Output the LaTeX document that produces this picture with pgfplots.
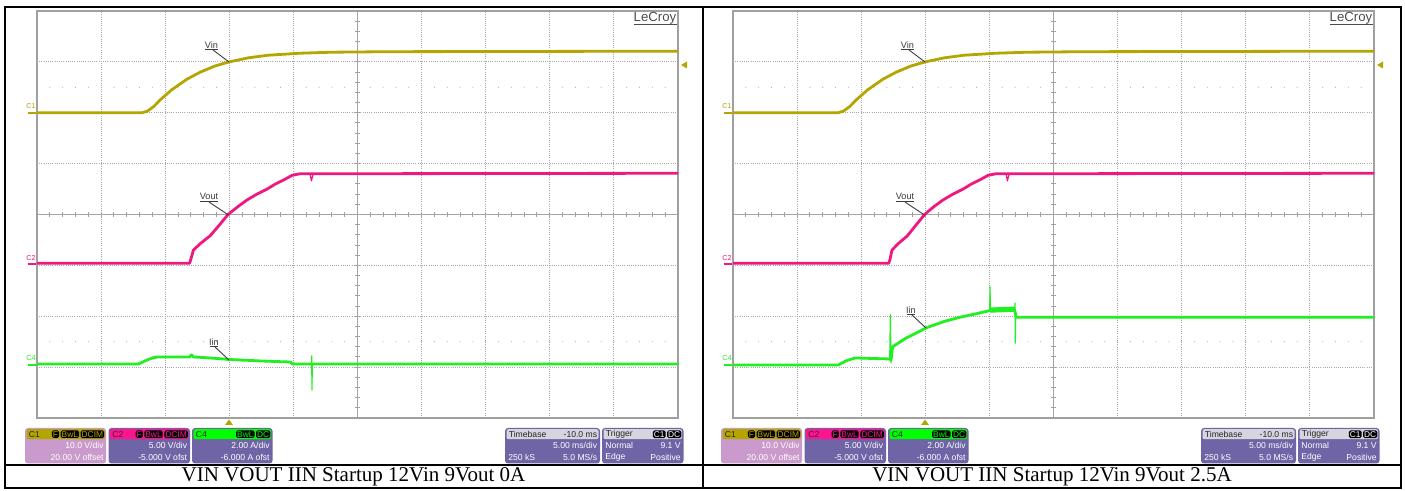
\documentclass[border=0pt]{standalone}
\usepackage{pgfplots}
\pgfplotsset{compat=1.18}
\usepackage{pgfplotstable}
\usepackage{fontspec}
\setmainfont{Liberation Serif}
\newfontfamily\ars{Liberation Sans}
\definecolor{cvin}{HTML}{B4A600}
\definecolor{cvout}{HTML}{F01880}
\definecolor{ciin}{HTML}{22EE22}
\definecolor{gridc}{HTML}{A8A8A8}
\definecolor{framec}{HTML}{A0A0A0}
\definecolor{boxp}{HTML}{6E64A6}
\definecolor{boxl}{HTML}{C99ACB}
\definecolor{hdrg}{HTML}{D6D4DC}
\definecolor{lbl}{HTML}{3C3C3C}
\definecolor{hdrm}{HTML}{FF1490}
\definecolor{hdrgr}{HTML}{00FF00}

\pgfplotstableread{
x y
0 2.0
1.64 2.0
1.72 2.03
1.82 2.12
1.92 2.25
2.10 2.45
2.34 2.66
2.55 2.80
2.78 2.92
3.0 3.0
3.3 3.08
3.6 3.13
4.1 3.17
4.6 3.19
5.5 3.20
10 3.21
}\vinL

\pgfplotstableread{
x y
0 -0.96
2.38 -0.96
2.40 -0.88
2.44 -0.70
2.55 -0.57
2.70 -0.42
2.85 -0.20
2.98 0.0
3.13 0.15
3.27 0.28
3.43 0.40
3.59 0.50
3.72 0.60
3.85 0.68
3.98 0.77
4.10 0.80
10 0.81
}\voutL

\pgfplotstableread{
x y
0 -0.96
2.43 -0.96
2.45 -0.88
2.48 -0.70
2.58 -0.57
2.72 -0.42
2.86 -0.20
2.99 0.0
3.13 0.15
3.27 0.28
3.43 0.40
3.59 0.50
3.72 0.60
3.85 0.68
3.98 0.77
4.10 0.80
10 0.81
}\voutR

\pgfplotstableread{
x y
4.26 0.81
4.28 0.66
4.31 0.80
}\voutSpike

\pgfplotstableread{
x y
0 -2.94
1.58 -2.94
1.70 -2.87
1.80 -2.82
1.88 -2.80
2.38 -2.80
2.41 -2.76
2.44 -2.80
2.70 -2.82
3.00 -2.85
3.50 -2.88
3.95 -2.90
3.99 -2.94
10 -2.94
}\iinL

\pgfplotstableread{
x y
4.28 -2.94
4.285 -2.78
4.29 -3.45
4.295 -2.94
}\iinLspike

\pgfplotstableread{
x y
0 -2.96
1.64 -2.96
1.76 -2.88
1.90 -2.82
2.44 -2.84
2.465 -2.86
2.49 -2.60
2.70 -2.43
3.03 -2.22
3.30 -2.10
3.54 -2.02
3.80 -1.95
4.00 -1.89
4.39 -1.86
4.42 -2.02
10 -2.02
}\iinR

\pgfplotstableread{
x y
2.445 -2.84
2.455 -1.97
2.465 -2.92
2.475 -2.62
}\iinRspikeA

\pgfplotstableread{
x y
4.005 -1.89
4.01 -1.42
4.015 -1.89
}\iinRspikeB

\pgfplotstableread{
x y
4.395 -1.86
4.40 -1.74
4.405 -2.53
4.41 -2.02
}\iinRspikeC

\pgfplotstableread{
x y
4.01 -1.88
4.39 -1.86
}\iinRband

\pgfplotsset{scopeaxis/.style={
  scale only axis, width=320.5pt, height=203.5pt, anchor=north west,
  xmin=0, xmax=10, ymin=-4, ymax=4,
  xtick={0,...,10}, ytick={-4,...,4},
  xticklabels={}, yticklabels={}, tick style={draw=none}, major tick length=0pt,
  grid=major,
  major grid style={draw=gridc, line width=0.5pt, dash pattern=on 0.5pt off 0.6pt},
  axis line style={draw=framec, line width=0.6pt},
  clip=true,
  every axis plot/.append style={line width=1.4pt, line join=round, mark=none},
}}

\tikzset{
  hdrtxt/.style={font=\ars\fontsize{4.3}{5}\selectfont, inner sep=0pt, text=black!85},
  bodytxt/.style={font=\ars\fontsize{4.3}{5}\selectfont, inner sep=0pt, text=white},
  badge/.style={font=\ars\fontsize{4.2}{5}\selectfont, fill=black, rounded corners=0.8pt, inner xsep=0.5pt, inner ysep=0.45pt},
  chlbl/.style={font=\ars\fontsize{3.6}{4}\selectfont, inner sep=0pt},
  trlbl/.style={font=\ars\fontsize{4.6}{5}\selectfont, inner sep=0pt, text=lbl},
  spike/.style={line width=0.6pt},
}

\newcommand\panel[6]{%
\begin{scope}[xshift=#1]
\begin{scope}[x=0.5pt,y=-0.5pt]
  \draw[framec, line width=0.6pt] (37,214.5) -- (678,214.5);
  \draw[framec, line width=0.6pt] (357.5,11) -- (357.5,418);
  \foreach \k in {1,...,49} \draw[framec, line width=0.5pt] ({37+\k*12.82},212) -- ++(0,5);
  \foreach \k in {1,...,39} \draw[framec, line width=0.5pt] (355,{11+\k*10.175}) -- ++(5,0);
  \foreach \k in {1,...,49} {
    \fill[gridc] ({37+\k*12.82},87.3) circle (0.55);
    \fill[gridc] ({37+\k*12.82},341.7) circle (0.55);
  }
\end{scope}
\begin{axis}[scopeaxis, at={(18.5pt,-5.5pt)}]
  \addplot[cvin] table {\vinL};
  \addplot[cvout] table {#5};
  \addplot[cvout, spike] table {\voutSpike};
  \addplot[ciin] table {#2};
  #6
\end{axis}
\begin{scope}[x=0.5pt,y=-0.5pt]
  \node[chlbl, text=cvin] at (31,106.5) {C1};
  \draw[cvin, line width=0.7pt] (27.5,113) -- (36,113);
  \node[chlbl, text=cvout] at (31,258) {C2};
  \draw[cvout, line width=0.7pt] (27.5,264) -- (36,264);
  \node[chlbl, text=ciin] at (31,358) {C4};
  \draw[ciin, line width=0.7pt] (27.5,365) -- (36,365);
  \fill[cvin] (681,65) -- (687,61.5) -- (687,68.5) -- cycle;
  \fill[cvin] (229,419.5) -- (225,425) -- (233,425) -- cycle;
  \node[font=\ars\fontsize{6.6}{7}\selectfont, text=black!70, inner sep=0pt] at (655,18.5) {LeCroy};
  \draw[black!70, line width=0.5pt] (634,24.5) -- (676.5,24.5);
  \node[trlbl] at (211.5,45.5) {Vin};
  \draw[lbl, line width=0.5pt] (205,50) -- (218,50);
  \draw[lbl, line width=0.45pt] (213,50) -- (229,62);
  \node[trlbl] at (209,196.5) {Vout};
  \draw[lbl, line width=0.5pt] (200,202) -- (218,202);
  \draw[lbl, line width=0.45pt] (209,202) -- (228.5,215);
  #3
  \fill[boxl, rounded corners=1.5pt] (25,428) rectangle (106,463.5);
  \fill[cvin, rounded corners=1pt] (26.5,429.2) rectangle (104.8,439.2);
  \node[hdrtxt, anchor=west] at (28.5,434.2) {C1};
  \node[badge, text=cvin, anchor=east] (b3) at (104.5,434.2) {DCIM};
  \node[badge, text=cvin, anchor=east] (b2) at ([xshift=-0.4pt]b3.west) {BwL};
  \node[badge, text=cvin, anchor=east] (b1) at ([xshift=-0.4pt]b2.west) {F};
  \node[bodytxt, anchor=east] at (104,445.5) {10.0 V/div};
  \node[bodytxt, anchor=east] at (104,457) {20.00 V offset};
  \fill[boxp, rounded corners=1.5pt] (108.5,428) rectangle (190,463.5);
  \fill[hdrm, rounded corners=1pt] (110,429.2) rectangle (188.5,439.2);
  \node[hdrtxt, anchor=west] at (112,434.2) {C2};
  \node[badge, text=hdrm, anchor=east] (b3) at (188.2,434.2) {DCIM};
  \node[badge, text=hdrm, anchor=east] (b2) at ([xshift=-0.4pt]b3.west) {BwL};
  \node[badge, text=hdrm, anchor=east] (b1) at ([xshift=-0.4pt]b2.west) {F};
  \node[bodytxt, anchor=east] at (187.5,445.5) {5.00 V/div};
  \node[bodytxt, anchor=east] at (187.5,457) {-5.000 V ofst};
  \fill[boxp, rounded corners=1.5pt] (192,428) rectangle (272.5,463.5);
  \fill[hdrgr, rounded corners=1pt] (193.5,429.2) rectangle (271,439.2);
  \node[hdrtxt, anchor=west] at (195.5,434.2) {C4};
  \node[badge, text=hdrgr, anchor=east] (b3) at (270.7,434.2) {DC};
  \node[badge, text=hdrgr, anchor=east] (b2) at ([xshift=-0.4pt]b3.west) {BwL};
  \node[bodytxt, anchor=east] at (270,445.5) {2.00 A/div};
  \node[bodytxt, anchor=east] at (270,457) {-6.000 A ofst};
  \fill[boxp, rounded corners=1.5pt] (505,428) rectangle (600,463.5);
  \fill[hdrg, rounded corners=1pt] (506.5,429.2) rectangle (598.5,439.2);
  \node[hdrtxt, anchor=west] at (508.5,434.2) {Timebase};
  \node[hdrtxt, anchor=east] at (597.5,434.2) {-10.0 ms};
  \node[bodytxt, anchor=east] at (597.5,445.5) {5.00 ms/div};
  \node[bodytxt, anchor=west] at (508,457) {250 kS};
  \node[bodytxt, anchor=east] at (597.5,457) {5.0 MS/s};
  \fill[boxp, rounded corners=1.5pt] (602,428) rectangle (683.5,463.5);
  \fill[hdrg, rounded corners=1pt] (603.5,429.2) rectangle (682,439.2);
  \node[hdrtxt, anchor=west] at (605.5,434.2) {Trigger};
  \node[badge, text=white, anchor=east] (b3) at (681.7,434.2) {DC};
  \node[badge, text=white, anchor=east] (b2) at ([xshift=-0.4pt]b3.west) {C1};
  \node[bodytxt, anchor=west] at (605,445.5) {Normal};
  \node[bodytxt, anchor=east] at (681,445.5) {9.1 V};
  \node[bodytxt, anchor=west] at (605,457) {Edge};
  \node[bodytxt, anchor=east] at (681,457) {Positive};
  \node[font=\fontsize{10.5}{12}\selectfont, inner sep=0pt] at (#4,477) {VIN VOUT IIN Startup 12Vin 9Vout \ifdim#1=0pt 0A\else 2.5A\fi};
\end{scope}
\end{scope}}

\begin{document}
\begin{tikzpicture}
\useasboundingbox (0,0) rectangle (702.5pt,-245.5pt);
\fill[white] (0,0) rectangle (702.5pt,-245.5pt);
\panel{0pt}{\iinL}{%
  \node[trlbl] at (214,342.5) {Iin};
  \draw[lbl, line width=0.5pt] (210,347) -- (218,347);
  \draw[lbl, line width=0.45pt] (215,347) -- (229,360);}{353.5}{\voutL}{%
  \addplot[ciin, spike] table {\iinLspike};}
\panel{348pt}{\iinR}{%
  \node[trlbl] at (215,310) {Iin};
  \draw[lbl, line width=0.5pt] (211,315) -- (219,315);
  \draw[lbl, line width=0.45pt] (216,315) -- (230,328);}{356}{\voutR}{%
  \addplot[ciin, spike] table {\iinRspikeA};
  \addplot[ciin, spike] table {\iinRspikeB};
  \addplot[ciin, spike] table {\iinRspikeC};
  \addplot[ciin, line width=2.6pt] table {\iinRband};}
\begin{scope}[x=0.5pt,y=-0.5pt]
  \draw[black, line width=1pt] (5,7.5) rectangle (1400.5,488.5);
  \draw[black, line width=1pt] (703,7.5) -- (703,488.5);
  \draw[black, line width=1pt] (5,465) -- (1400.5,465);
\end{scope}
\end{tikzpicture}
\end{document}
